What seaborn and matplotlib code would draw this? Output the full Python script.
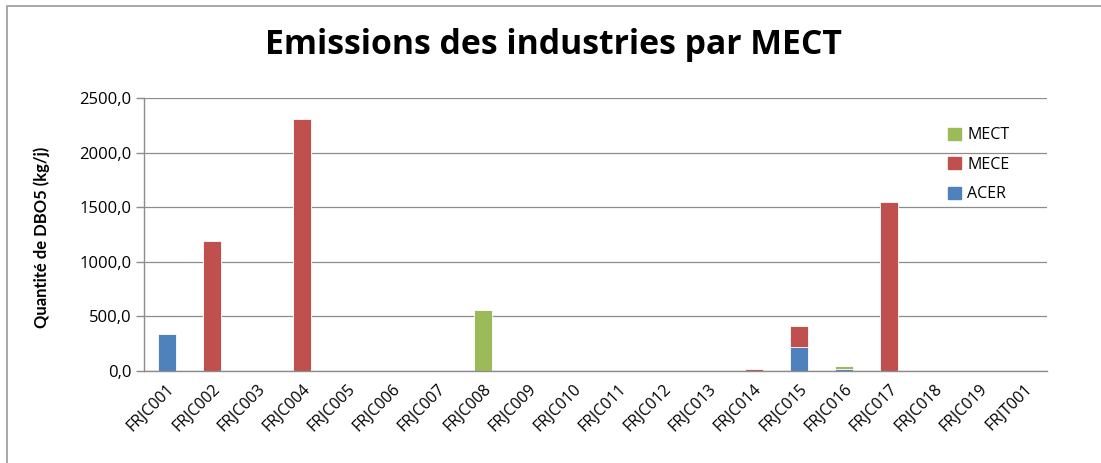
import matplotlib
matplotlib.use("Agg")
import matplotlib.pyplot as plt
import matplotlib.patches as mpatches
import matplotlib.transforms as mtransforms
from matplotlib.ticker import FuncFormatter, FixedLocator
import seaborn as sns
import pandas as pd
import numpy as np

# Sites and emissions per treatment type (kg/j of DBO5)
sites = ["FRJC001", "FRJC002", "FRJC003", "FRJC004", "FRJC005", "FRJC006",
         "FRJC007", "FRJC008", "FRJC009", "FRJC010", "FRJC011", "FRJC012",
         "FRJC013", "FRJC014", "FRJC015", "FRJC016", "FRJC017", "FRJC018",
         "FRJC019", "FRJT001"]
acer = [342, 0, 0, 0, 0, 0, 0, 0, 0, 0, 0, 0, 0, 0, 219, 22, 0, 0, 0, 0]
mece = [0, 1195, 0, 2310, 0, 0, 0, 0, 0, 0, 0, 0, 0, 15, 189, 0, 1545, 0, 0, 0]
mect = [0, 0, 0, 0, 0, 0, 0, 555, 0, 0, 0, 0, 0, 0, 0, 20, 0, 0, 0, 0]

n = len(sites)
df = pd.DataFrame({"site": sites, "ACER": acer, "MECE": mece, "MECT": mect})
df["lvl_acer"] = df["ACER"]
df["lvl_mece"] = df["ACER"] + df["MECE"]
df["lvl_mect"] = df["ACER"] + df["MECE"] + df["MECT"]

c_acer = "#4F81BD"
c_mece = "#C0504D"
c_mect = "#9BBB59"
grey = "#8C8C8C"

sns.set_theme(style="white")
plt.rcParams["font.family"] = ["Open Sans", "DejaVu Sans"]
plt.rcParams["text.color"] = "black"
plt.rcParams["axes.labelcolor"] = "black"
plt.rcParams["xtick.color"] = "black"
plt.rcParams["ytick.color"] = "black"

fig = plt.figure(figsize=(11.01, 4.63), dpi=100)
ax = fig.add_axes([0.1308, 0.1987, 0.8202, 0.5893])

# stacked bars: draw cumulative totals from the top level down
bw = 0.40
for col, c in [("lvl_mect", c_mect), ("lvl_mece", c_mece), ("lvl_acer", c_acer)]:
    sns.barplot(data=df, x="site", y=col, color=c, width=bw, ax=ax,
                saturation=1, edgecolor="white", linewidth=0.6)

ax.set_xlim(-0.5, n - 0.5)
ax.set_ylim(0, 2500)
ax.set_yticks(np.arange(0, 2501, 500))
ax.yaxis.set_major_formatter(FuncFormatter(lambda v, p: f"{v:.1f}".replace(".", ",")))
ax.grid(axis="y", color=grey, linewidth=0.9)
ax.set_axisbelow(True)

for side in ["top", "right"]:
    ax.spines[side].set_visible(False)
for side in ["left", "bottom"]:
    ax.spines[side].set_color(grey)
    ax.spines[side].set_linewidth(1.0)

# x ticks at category boundaries, labels at centers
ax.set_xticks(np.arange(n))
ax.set_xticklabels(sites, rotation=45, ha="right", va="top",
                   rotation_mode="anchor", fontsize=11.5)
shift = mtransforms.ScaledTranslation(8 / 100, 0, fig.dpi_scale_trans)
for lbl in ax.get_xticklabels():
    lbl.set_transform(lbl.get_transform() + shift)
ax.xaxis.set_minor_locator(FixedLocator(np.arange(-0.5, n, 1.0)))
ax.tick_params(axis="x", which="major", length=0, pad=7, labelcolor="black")
ax.tick_params(axis="x", which="minor", length=6, color=grey, width=1.0, direction="out")
ax.tick_params(axis="y", which="major", length=6, color=grey, width=1.0,
               direction="out", labelsize=12, pad=3, labelcolor="black")
ax.tick_params(bottom=True, left=True)

ax.set_xlabel("")
ax.set_ylabel("Quantité de DBO5 (kg/j)", fontsize=12, fontweight="bold",
              family=["Lato", "DejaVu Sans"], color="black")
ax.yaxis.set_label_coords(-0.104, 0.49)

fig.text(0.503, 0.903, "Emissions des industries par MECT", ha="center", va="center",
         fontsize=24.3, fontweight="bold", color="black")

handles = [mpatches.Patch(color=c_mect, label="MECT"),
           mpatches.Patch(color=c_mece, label="MECE"),
           mpatches.Patch(color=c_acer, label="ACER")]
fig.legend(handles=handles, loc="upper left", bbox_to_anchor=(0.848, 0.756),
           frameon=False, fontsize=11.5, handlelength=0.8, handleheight=0.8,
           handletextpad=0.4, labelspacing=0.85, labelcolor="black")

# outer chart frame
fig.add_artist(mpatches.Rectangle((7 / 1101, -0.05), 1.2, 1 - 6 / 463 + 0.05,
                                  transform=fig.transFigure, fill=False,
                                  edgecolor="#9A9A9A", linewidth=1.2))

fig.savefig("out.png", dpi=100)
